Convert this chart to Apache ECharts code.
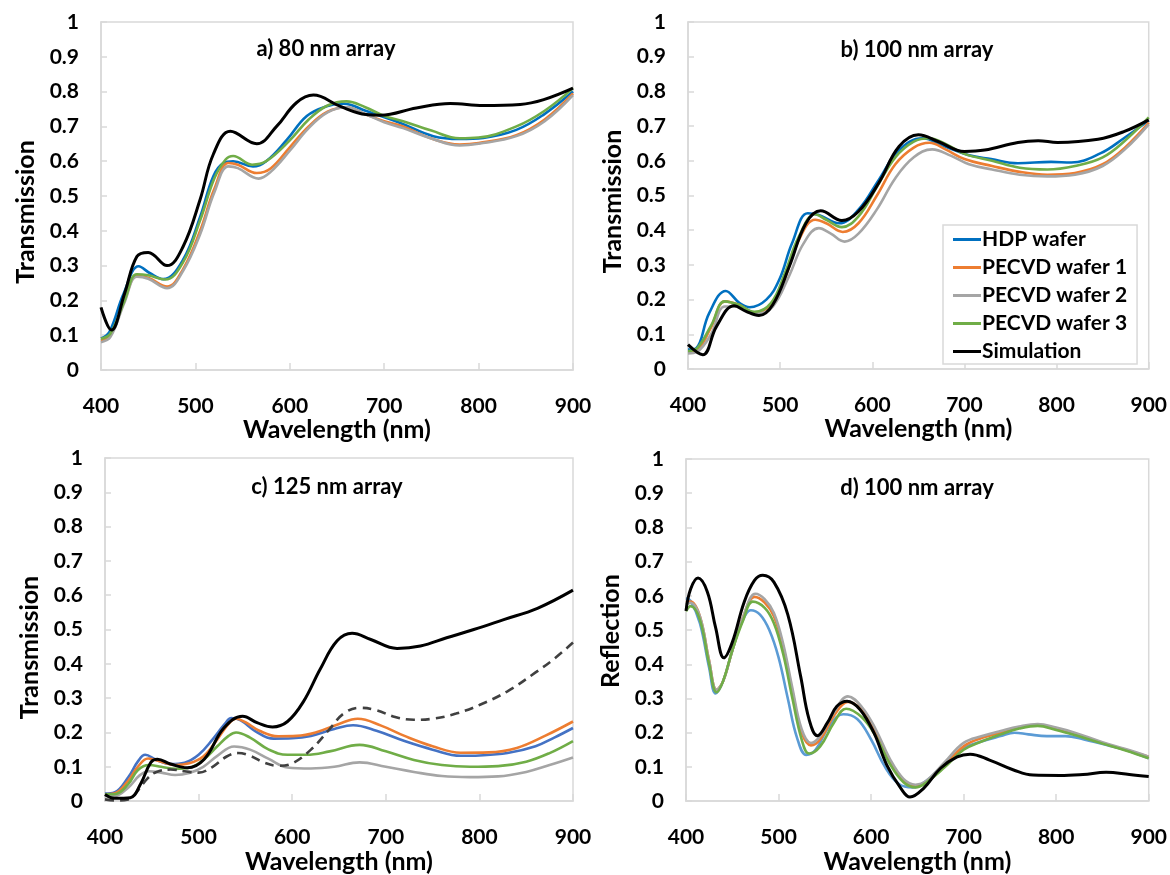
<!DOCTYPE html>
<html>
<head>
<meta charset="utf-8">
<script src="https://cdn.jsdelivr.net/npm/echarts@6/dist/echarts.min.js"></script>
<style>
  html, body { margin: 0; padding: 0; background: #fff; }
  #chart { width: 1170px; height: 875px; }
</style>
</head>
<body>
<div id="chart"></div>
<script>
// Spectra: [wavelength (nm), value] pairs for each sample and simulation.

// a) 80 nm array — transmission
const a_hdp = [[400,0.091],[409,0.11],[424,0.22],[440,0.298],[452,0.278],[466,0.261],[487,0.317],[505,0.44],[519,0.557],[530,0.595],[540,0.60],[561,0.585],[575,0.60],[597,0.662],[618,0.73],[639,0.758],[657,0.765],[681,0.744],[717,0.71],[752,0.672],[780,0.664],[805,0.667],[840,0.69],[869,0.734],[900,0.80]];
const a_pecvd1 = [[400,0.085],[410,0.10],[425,0.20],[438,0.27],[450,0.265],[470,0.24],[487,0.29],[505,0.40],[520,0.52],[535,0.595],[545,0.59],[565,0.566],[580,0.58],[600,0.64],[620,0.70],[640,0.742],[660,0.755],[680,0.735],[700,0.715],[720,0.70],[750,0.665],[780,0.648],[800,0.652],[840,0.675],[870,0.72],[900,0.795]];
const a_pecvd2 = [[400,0.08],[410,0.095],[425,0.195],[438,0.268],[450,0.262],[470,0.235],[487,0.285],[505,0.39],[520,0.51],[535,0.585],[545,0.58],[567,0.55],[580,0.57],[600,0.63],[620,0.695],[640,0.74],[660,0.755],[680,0.735],[700,0.712],[720,0.695],[750,0.665],[780,0.645],[800,0.65],[840,0.672],[870,0.715],[900,0.79]];
const a_pecvd3 = [[400,0.09],[410,0.105],[425,0.20],[438,0.275],[450,0.272],[468,0.26],[487,0.31],[505,0.43],[520,0.55],[532,0.605],[540,0.615],[560,0.59],[575,0.60],[600,0.66],[620,0.72],[640,0.76],[660,0.772],[680,0.755],[700,0.73],[720,0.715],[750,0.688],[780,0.666],[800,0.668],[840,0.70],[870,0.745],[900,0.81]];
const a_sim = [[400,0.18],[411,0.115],[425,0.22],[438,0.326],[450,0.338],[470,0.30],[487,0.355],[505,0.49],[519,0.62],[537,0.686],[565,0.65],[586,0.70],[607,0.768],[625,0.79],[653,0.758],[681,0.734],[696,0.732],[734,0.753],[770,0.766],[805,0.76],[844,0.763],[869,0.777],[900,0.81]];

// b) 100 nm array — transmission
const b_hdp = [[400,0.056],[409,0.06],[423,0.161],[441,0.225],[456,0.19],[467,0.178],[485,0.20],[499,0.257],[513,0.363],[530,0.449],[542,0.444],[564,0.42],[585,0.459],[607,0.545],[629,0.631],[654,0.665],[679,0.641],[704,0.617],[729,0.605],[758,0.593],[794,0.597],[816,0.595],[848,0.622],[873,0.665],[900,0.716]];
const b_pecvd1 = [[400,0.05],[410,0.055],[425,0.12],[440,0.195],[455,0.185],[472,0.162],[490,0.185],[505,0.26],[520,0.37],[538,0.43],[550,0.42],[568,0.395],[585,0.42],[605,0.50],[625,0.59],[645,0.638],[662,0.652],[680,0.632],[700,0.605],[730,0.585],[760,0.568],[790,0.56],[820,0.565],[850,0.59],[875,0.64],[900,0.71]];
const b_pecvd2 = [[400,0.045],[410,0.05],[425,0.10],[440,0.18],[455,0.18],[475,0.16],[492,0.18],[510,0.27],[525,0.36],[542,0.406],[555,0.39],[570,0.367],[585,0.39],[605,0.46],[625,0.55],[645,0.61],[665,0.633],[685,0.615],[705,0.59],[730,0.575],[760,0.56],[790,0.555],[820,0.56],[850,0.585],[875,0.635],[900,0.705]];
const b_pecvd3 = [[400,0.052],[410,0.06],[425,0.125],[440,0.195],[455,0.185],[472,0.165],[490,0.19],[505,0.275],[520,0.38],[538,0.446],[550,0.43],[567,0.409],[585,0.44],[605,0.525],[625,0.61],[645,0.655],[662,0.665],[680,0.648],[700,0.62],[730,0.60],[760,0.58],[790,0.575],[820,0.585],[850,0.61],[875,0.66],[900,0.725]];
const b_sim = [[400,0.07],[416,0.041],[431,0.123],[450,0.182],[463,0.166],[477,0.154],[492,0.185],[510,0.296],[528,0.42],[544,0.456],[567,0.428],[585,0.454],[607,0.536],[629,0.641],[650,0.675],[672,0.655],[700,0.627],[722,0.631],[758,0.653],[780,0.658],[801,0.653],[845,0.662],[873,0.684],[900,0.718]];

// c) 125 nm array — transmission
const c_hdp = [[400,0.022],[410,0.025],[425,0.07],[435,0.115],[443,0.135],[455,0.12],[470,0.108],[485,0.112],[500,0.135],[515,0.18],[528,0.225],[535,0.242],[545,0.235],[560,0.205],[580,0.182],[600,0.183],[620,0.19],[645,0.21],[665,0.221],[690,0.205],[720,0.175],[750,0.15],[780,0.132],[800,0.133],[830,0.14],[860,0.16],[880,0.185],[900,0.213]];
const c_pecvd1 = [[400,0.02],[410,0.022],[425,0.06],[435,0.10],[446,0.124],[460,0.115],[475,0.105],[490,0.11],[505,0.13],[520,0.18],[532,0.225],[540,0.24],[550,0.23],[565,0.205],[585,0.189],[605,0.19],[625,0.20],[650,0.225],[670,0.24],[695,0.22],[720,0.19],[750,0.16],[780,0.141],[810,0.142],[840,0.155],[870,0.19],[900,0.232]];
const c_pecvd2 = [[400,0.015],[410,0.015],[425,0.04],[437,0.075],[447,0.087],[460,0.083],[475,0.076],[490,0.082],[505,0.10],[520,0.132],[538,0.159],[555,0.15],[575,0.123],[595,0.098],[620,0.095],[645,0.10],[672,0.113],[700,0.10],[730,0.085],[760,0.073],[790,0.07],[820,0.072],[850,0.085],[875,0.105],[900,0.127]];
const c_pecvd3 = [[400,0.02],[410,0.02],[425,0.05],[435,0.09],[447,0.105],[460,0.10],[475,0.094],[490,0.097],[505,0.12],[520,0.16],[532,0.19],[540,0.20],[555,0.185],[575,0.15],[595,0.135],[615,0.135],[640,0.145],[672,0.164],[700,0.145],[730,0.12],[760,0.105],[790,0.10],[820,0.102],[850,0.115],[875,0.14],[900,0.175]];
const c_sim = [[400,0.019],[410,0.008],[427,0.01],[438,0.05],[449,0.113],[456,0.122],[470,0.108],[488,0.097],[506,0.122],[527,0.213],[547,0.247],[563,0.228],[579,0.216],[595,0.232],[612,0.29],[630,0.385],[648,0.467],[664,0.489],[684,0.471],[712,0.445],[737,0.452],[765,0.476],[794,0.50],[826,0.529],[862,0.562],[900,0.615]];
const c_simDashed = [[400,0.005],[410,0.002],[425,0.005],[435,0.03],[445,0.065],[455,0.085],[470,0.092],[485,0.087],[500,0.083],[515,0.10],[530,0.13],[542,0.14],[555,0.132],[570,0.112],[585,0.103],[600,0.11],[620,0.15],[640,0.21],[655,0.255],[672,0.272],[690,0.265],[710,0.245],[730,0.237],[750,0.24],[775,0.255],[800,0.28],[830,0.32],[860,0.375],[880,0.415],[900,0.462]];

// d) 100 nm array — reflection
const d_hdp = [[400,0.593],[405,0.585],[415,0.52],[425,0.39],[432,0.315],[440,0.35],[450,0.44],[460,0.52],[470,0.558],[480,0.545],[490,0.50],[500,0.42],[510,0.30],[520,0.185],[530,0.135],[540,0.15],[555,0.22],[570,0.254],[585,0.24],[600,0.18],[615,0.10],[630,0.05],[645,0.04],[660,0.06],[680,0.11],[700,0.155],[720,0.175],[740,0.19],[755,0.20],[770,0.195],[790,0.19],[810,0.19],[830,0.18],[860,0.16],[880,0.145],[900,0.125]];
const d_pecvd1 = [[400,0.58],[405,0.583],[415,0.54],[425,0.41],[433,0.325],[440,0.35],[450,0.44],[462,0.54],[474,0.597],[485,0.58],[495,0.54],[505,0.45],[515,0.32],[525,0.20],[535,0.163],[545,0.18],[560,0.25],[575,0.29],[590,0.265],[605,0.20],[620,0.12],[635,0.06],[648,0.045],[660,0.055],[680,0.105],[700,0.16],[720,0.185],[740,0.20],[760,0.215],[780,0.222],[800,0.21],[820,0.195],[850,0.17],[875,0.15],[900,0.13]];
const d_pecvd2 = [[400,0.575],[405,0.58],[415,0.54],[425,0.41],[433,0.325],[440,0.35],[450,0.44],[462,0.54],[475,0.606],[485,0.59],[495,0.55],[505,0.46],[515,0.33],[525,0.21],[535,0.17],[545,0.19],[560,0.26],[575,0.306],[590,0.275],[605,0.21],[620,0.125],[635,0.065],[648,0.048],[660,0.06],[680,0.115],[700,0.17],[720,0.19],[740,0.205],[760,0.218],[780,0.225],[800,0.215],[820,0.20],[850,0.172],[875,0.152],[900,0.13]];
const d_pecvd3 = [[400,0.555],[405,0.57],[415,0.53],[425,0.40],[433,0.318],[440,0.35],[450,0.44],[462,0.53],[472,0.583],[485,0.565],[495,0.52],[505,0.43],[515,0.30],[525,0.18],[533,0.139],[545,0.16],[560,0.23],[573,0.27],[590,0.245],[605,0.19],[620,0.11],[635,0.055],[648,0.04],[660,0.055],[680,0.10],[700,0.15],[720,0.175],[740,0.195],[760,0.212],[780,0.22],[800,0.208],[820,0.193],[850,0.168],[875,0.148],[900,0.125]];
const d_sim = [[400,0.556],[405,0.62],[413,0.652],[423,0.612],[432,0.507],[441,0.419],[450,0.464],[463,0.583],[474,0.645],[483,0.66],[495,0.64],[510,0.545],[524,0.363],[533,0.239],[542,0.191],[553,0.23],[563,0.277],[574,0.292],[588,0.268],[603,0.20],[617,0.105],[632,0.038],[642,0.012],[657,0.038],[675,0.096],[693,0.129],[707,0.137],[728,0.12],[754,0.091],[775,0.076],[804,0.075],[829,0.078],[854,0.084],[879,0.078],[900,0.072]];

// Panel labels, axis titles and legend entries
const panelTitles = ['a) 80 nm array', 'b) 100 nm array', 'c) 125 nm array', 'd) 100 nm array'];
const yTitles = ['Transmission', 'Transmission', 'Transmission', 'Reflection'];
const xTitle = 'Wavelength (nm)';
const seriesNames = ['HDP wafer', 'PECVD wafer 1', 'PECVD wafer 2', 'PECVD wafer 3', 'Simulation'];

const FONT = 'Lato, "Open Sans", sans-serif';
const FRAME = '#d9d9d9';
const ORANGE = '#ED7D31', GRAY = '#A5A5A5', GREEN = '#70AD47', BLACK = '#000000';

const grids = [
  { left: 101, top: 22, width: 472, height: 348 },
  { left: 688, top: 22, width: 463, height: 347 },
  { left: 105, top: 458, width: 468, height: 350 },
  { left: 686, top: 459, width: 464, height: 348 }
];
// extra right padding shifts each rotated y title down the panel
const yTitleShift = [32, 12, 36, 2];

const panels = [
  { data: [a_hdp, a_pecvd1, a_pecvd2, a_pecvd3, a_sim], blue: '#0070C0' },
  { data: [b_hdp, b_pecvd1, b_pecvd2, b_pecvd3, b_sim], blue: '#0070C0' },
  { data: [c_hdp, c_pecvd1, c_pecvd2, c_pecvd3, c_sim], blue: '#4472C4' },
  { data: [d_hdp, d_pecvd1, d_pecvd2, d_pecvd3, d_sim], blue: '#5B9BD5' }
];

const xAxes = grids.map((g, i) => ({
  type: 'value', gridIndex: i, min: 400, max: 900, interval: 100,
  name: xTitle, nameLocation: 'middle', nameGap: 44,
  nameTextStyle: { fontFamily: FONT, fontWeight: 'bold', fontSize: 25, color: '#000' },
  axisLine: { show: true, lineStyle: { color: FRAME, width: 1.5 } },
  axisTick: { show: true, inside: true, length: 7, lineStyle: { color: FRAME, width: 1.5 } },
  axisLabel: { fontFamily: FONT, fontWeight: 'bold', fontSize: 21, color: '#000', margin: 26 },
  splitLine: { show: false }
}));

const yAxes = grids.map((g, i) => ({
  type: 'value', gridIndex: i, min: 0, max: 1, interval: 0.1,
  name: yTitles[i], nameLocation: 'middle', nameGap: 63,
  nameTextStyle: { fontFamily: FONT, fontWeight: 'bold', fontSize: 25, color: '#000',
    padding: [0, yTitleShift[i], 0, 0] },
  axisLine: { show: true, lineStyle: { color: FRAME, width: 1.5 } },
  axisTick: { show: true, inside: true, length: 6, lineStyle: { color: FRAME, width: 1.5 } },
  axisLabel: { fontFamily: FONT, fontWeight: 'bold', fontSize: 21, color: '#000', margin: 22,
    formatter: v => (Math.round(v * 10) / 10).toString() },
  splitLine: { show: false }
}));

const series = [];
panels.forEach((p, i) => {
  const colors = [p.blue, ORANGE, GRAY, GREEN, BLACK];
  p.data.forEach((d, k) => {
    series.push({
      type: 'line', name: seriesNames[k], xAxisIndex: i, yAxisIndex: i,
      data: d, smooth: 0.4, showSymbol: false, symbol: 'none',
      lineStyle: { color: colors[k], width: k === 4 ? 3 : 2.6 },
      itemStyle: { color: colors[k] },
      z: k === 4 ? 4 : 2
    });
  });
});
// Dashed simulation curve in panel c
series.push({
  type: 'line', name: 'Simulation, dashed', xAxisIndex: 2, yAxisIndex: 2,
  data: c_simDashed, smooth: 0.4, showSymbol: false, symbol: 'none',
  lineStyle: { color: '#404040', width: 2.6, type: [9, 6] },
  z: 3
});

const titleSpots = [[326, 49], [917, 50], [327, 487], [917, 488]];
const graphics = panelTitles.map((t, i) => ({
  type: 'text', x: titleSpots[i][0], y: titleSpots[i][1], z: 10,
  style: { text: t, fontFamily: FONT, fontWeight: 'bold', fontSize: 22, fill: '#000',
    textAlign: 'center', textVerticalAlign: 'middle' }
}));

const chart = echarts.init(document.getElementById('chart'), null, { renderer: 'canvas' });
chart.setOption({
  backgroundColor: '#fff',
  animation: false,
  grid: grids.map(g => Object.assign({ show: true, borderColor: FRAME, borderWidth: 1.5, backgroundColor: 'transparent' }, g)),
  xAxis: xAxes,
  yAxis: yAxes,
  legend: {
    data: seriesNames, orient: 'vertical', left: 943, top: 225,
    padding: [4, 10, 2, 10], itemWidth: 28, itemHeight: 3, itemGap: 7,
    icon: 'rect',
    backgroundColor: '#fff', borderColor: FRAME, borderWidth: 1.5,
    textStyle: { fontFamily: FONT, fontWeight: 'bold', fontSize: 21, color: '#000', lineHeight: 20, padding: [0, 0, 0, -4] },
    selectedMode: false
  },
  series: series,
  graphic: graphics
});
</script>
</body>
</html>
